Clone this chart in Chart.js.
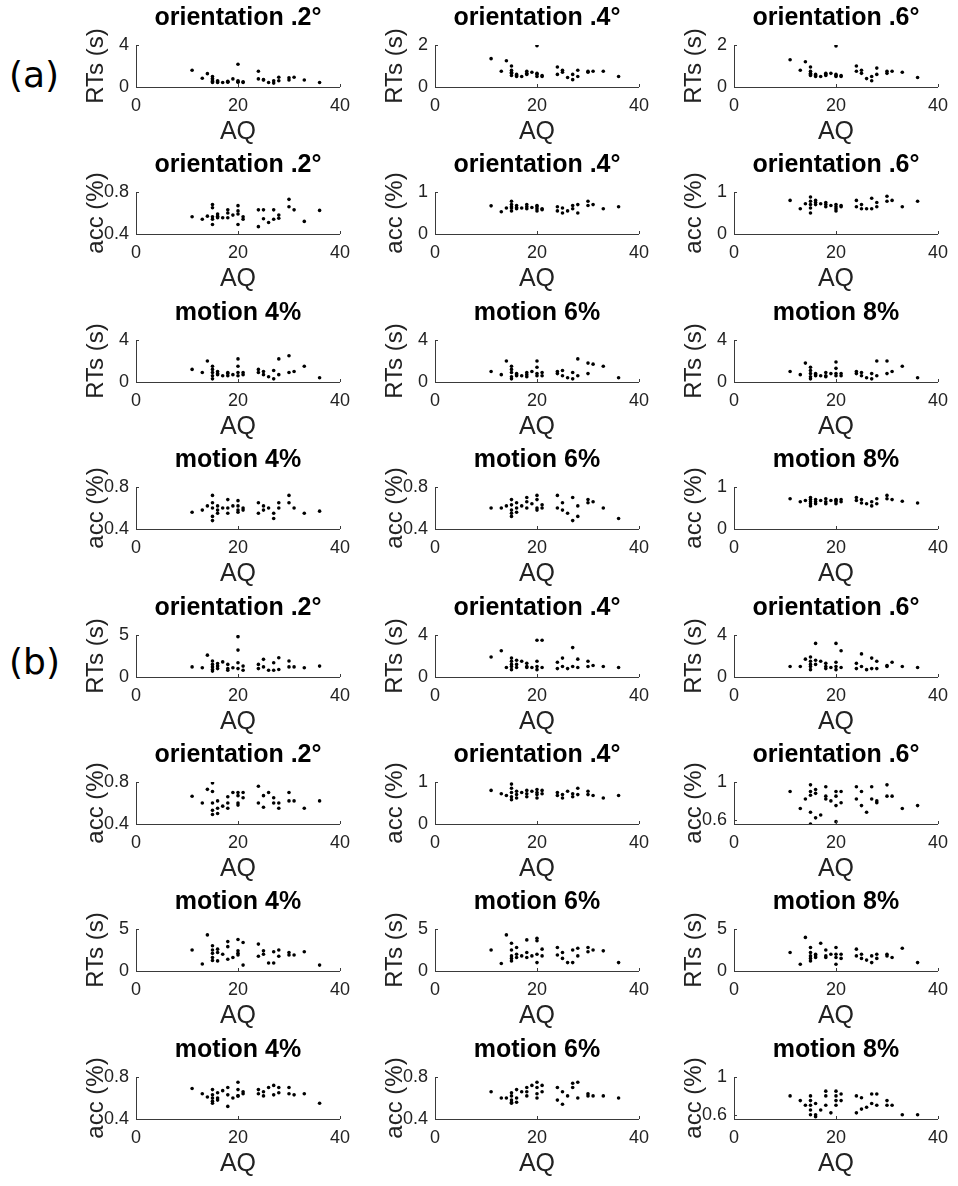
<!DOCTYPE html>
<html>
<head>
<meta charset="utf-8">
<script src="https://cdn.jsdelivr.net/npm/chart.js@4.4.1/dist/chart.umd.min.js"></script>
<style>
  body { margin: 0; background: #fff; }
  #page { position: relative; width: 958px; height: 1186px; overflow: hidden; font-family: "Liberation Sans", Arial, sans-serif; }
  #page canvas { position: absolute; }
  .tag { position: absolute; left: 9px; font-family: "DejaVu Sans", sans-serif; font-size: 36px; color: #000; line-height: 42px; }
</style>
</head>
<body>
<div id="page">
  <div class="tag" style="top:54px">(a)</div>
  <div class="tag" style="top:641px">(b)</div>
</div>
<script>
// AQ score per participant (x axis, same for all panels)
const aq = [11, 13, 14, 15, 15, 15, 15, 15, 16, 16, 16, 17, 18, 18, 18, 19, 20, 20, 20, 20,
            21, 21, 24, 24, 25, 25, 26, 27, 27, 28, 28, 30, 30, 31, 33, 36];

// (a) orientation RTs
const aOri2RT = [1.6, 0.83, 1.27, 1.0, 0.67, 0.43, 0.55, 0.8, 0.43, 0.5, 0.6, 0.43, 0.5, 0.45, 0.55, 0.77, 2.17, 0.5, 0.6, 0.45, 0.43, 0.5, 1.5, 0.77, 0.7, 0.67, 0.43, 0.37, 0.6, 0.93, 0.6, 0.87, 0.67, 0.93, 0.67, 0.43];
const aOri4RT = [1.35, 0.75, 1.25, 1.0, 0.8, 0.65, 0.55, 0.7, 0.55, 0.5, 0.6, 0.5, 0.75, 0.6, 0.65, 0.7, 1.97, 0.6, 0.5, 0.65, 0.5, 0.55, 0.95, 0.6, 0.8, 0.7, 0.45, 0.35, 0.6, 0.8, 0.5, 0.75, 0.7, 0.75, 0.75, 0.5];
const aOri6RT = [1.3, 0.8, 1.2, 0.95, 0.75, 0.6, 0.55, 0.65, 0.5, 0.55, 0.6, 0.5, 0.6, 0.55, 0.65, 0.65, 1.95, 0.55, 0.6, 0.5, 0.5, 0.55, 1.0, 0.75, 0.65, 0.8, 0.4, 0.3, 0.5, 0.9, 0.6, 0.75, 0.65, 0.75, 0.7, 0.45];
// (a) orientation accuracy
const aOri2Acc = [0.565, 0.54, 0.57, 0.68, 0.65, 0.565, 0.54, 0.49, 0.59, 0.57, 0.555, 0.555, 0.63, 0.6, 0.555, 0.58, 0.67, 0.62, 0.59, 0.49, 0.565, 0.54, 0.63, 0.47, 0.63, 0.545, 0.51, 0.63, 0.54, 0.58, 0.55, 0.73, 0.66, 0.63, 0.52, 0.625];
const aOri4Acc = [0.67, 0.53, 0.62, 0.78, 0.7, 0.62, 0.55, 0.65, 0.6, 0.68, 0.63, 0.62, 0.7, 0.6, 0.65, 0.63, 0.6, 0.55, 0.65, 0.68, 0.6, 0.58, 0.65, 0.55, 0.62, 0.5, 0.55, 0.68, 0.6, 0.7, 0.5, 0.78, 0.68, 0.7, 0.6, 0.65];
const aOri6Acc = [0.8, 0.6, 0.72, 0.88, 0.78, 0.7, 0.62, 0.5, 0.8, 0.7, 0.75, 0.72, 0.75, 0.65, 0.7, 0.68, 0.65, 0.6, 0.7, 0.55, 0.68, 0.65, 0.8, 0.65, 0.7, 0.6, 0.6, 0.85, 0.6, 0.75, 0.65, 0.9, 0.78, 0.8, 0.65, 0.78];
// (a) motion RTs
const aMot4RT = [1.2, 0.9, 2.0, 1.5, 1.2, 0.9, 0.6, 0.3, 1.0, 0.7, 0.8, 0.6, 0.8, 0.6, 0.9, 0.7, 2.2, 1.5, 0.9, 0.6, 0.9, 0.7, 1.2, 0.9, 1.0, 0.7, 0.5, 1.1, 0.3, 2.2, 0.7, 2.5, 0.9, 1.0, 1.5, 0.4];
const aMot6RT = [1.0, 0.7, 2.0, 1.5, 1.2, 0.9, 0.5, 0.3, 0.8, 0.6, 0.7, 0.6, 0.7, 0.9, 0.5, 1.0, 2.0, 1.4, 0.8, 0.6, 0.9, 0.6, 1.0, 0.8, 1.1, 0.6, 0.4, 0.9, 0.3, 2.2, 0.6, 1.8, 0.8, 1.7, 1.5, 0.4];
const aMot8RT = [1.0, 0.7, 1.8, 1.4, 1.1, 0.8, 0.5, 0.3, 0.7, 0.6, 0.8, 0.6, 0.9, 0.6, 0.5, 0.8, 1.9, 1.3, 0.8, 0.6, 0.8, 0.6, 1.0, 0.8, 0.9, 0.6, 0.4, 0.8, 0.3, 2.0, 0.6, 2.0, 0.8, 1.0, 1.5, 0.4];
// (a) motion accuracy
const aMot4Acc = [0.56, 0.58, 0.62, 0.72, 0.65, 0.6, 0.52, 0.48, 0.62, 0.58, 0.55, 0.6, 0.68, 0.6, 0.55, 0.62, 0.67, 0.62, 0.58, 0.56, 0.58, 0.6, 0.65, 0.55, 0.62, 0.58, 0.6, 0.55, 0.5, 0.65, 0.6, 0.72, 0.65, 0.6, 0.55, 0.57];
const aMot6Acc = [0.6, 0.6, 0.62, 0.68, 0.63, 0.58, 0.55, 0.52, 0.65, 0.6, 0.56, 0.62, 0.7, 0.66, 0.6, 0.64, 0.72, 0.68, 0.6, 0.58, 0.63, 0.6, 0.72, 0.6, 0.65, 0.58, 0.55, 0.7, 0.48, 0.62, 0.52, 0.68, 0.65, 0.66, 0.6, 0.5];
const aMot8Acc = [0.72, 0.65, 0.68, 0.75, 0.7, 0.65, 0.6, 0.55, 0.7, 0.65, 0.6, 0.68, 0.72, 0.65, 0.6, 0.68, 0.7, 0.68, 0.65, 0.6, 0.7, 0.65, 0.75, 0.68, 0.7, 0.62, 0.6, 0.65, 0.55, 0.72, 0.6, 0.8, 0.72, 0.7, 0.66, 0.62];

// (b) orientation RTs
const bOri2RT = [1.2, 1.1, 2.6, 1.9, 1.5, 1.2, 0.9, 0.7, 1.6, 1.3, 1.0, 1.8, 1.5, 1.0, 0.8, 1.1, 4.8, 3.2, 1.7, 1.0, 1.3, 0.8, 1.5, 1.0, 2.1, 1.2, 0.8, 1.7, 0.8, 2.3, 0.9, 1.9, 1.2, 1.2, 1.1, 1.3];
const bOri4RT = [1.9, 2.5, 0.9, 1.8, 1.5, 1.2, 1.0, 0.7, 1.6, 1.2, 0.9, 1.5, 1.3, 0.9, 1.0, 0.9, 3.5, 1.5, 1.0, 0.7, 3.5, 0.9, 1.4, 0.8, 1.8, 1.0, 0.8, 2.8, 1.0, 1.7, 0.9, 1.5, 1.0, 1.1, 1.0, 0.9];
const bOri6RT = [1.0, 1.0, 1.7, 1.9, 1.5, 1.2, 1.0, 0.7, 3.2, 1.6, 1.2, 1.5, 1.3, 1.0, 0.8, 0.9, 3.2, 1.0, 0.7, 1.4, 2.5, 0.9, 1.3, 0.8, 2.2, 1.0, 0.7, 1.8, 0.8, 1.5, 0.8, 1.1, 1.0, 1.4, 1.0, 0.9];
// (b) orientation accuracy
const bOri2Acc = [0.665, 0.6, 0.73, 0.79, 0.71, 0.6, 0.53, 0.49, 0.62, 0.55, 0.5, 0.57, 0.66, 0.6, 0.55, 0.7, 0.7, 0.67, 0.6, 0.58, 0.7, 0.65, 0.76, 0.6, 0.67, 0.56, 0.7, 0.65, 0.6, 0.6, 0.55, 0.7, 0.62, 0.62, 0.55, 0.62];
const bOri4Acc = [0.8, 0.72, 0.68, 0.95, 0.85, 0.75, 0.65, 0.58, 0.78, 0.7, 0.62, 0.75, 0.8, 0.72, 0.65, 0.78, 0.82, 0.75, 0.7, 0.62, 0.8, 0.72, 0.75, 0.68, 0.7, 0.62, 0.78, 0.72, 0.65, 0.85, 0.7, 0.78, 0.7, 0.68, 0.62, 0.68];
const bOri6Acc = [0.9, 0.72, 0.82, 0.97, 0.9, 0.86, 0.68, 0.555, 0.62, 0.92, 0.88, 0.65, 0.95, 0.85, 0.82, 0.8, 0.58, 0.75, 0.9, 0.85, 0.9, 0.78, 0.95, 0.82, 0.9, 0.75, 0.68, 0.95, 0.82, 0.8, 0.78, 0.97, 0.85, 0.85, 0.72, 0.75];
// (b) motion RTs
const bMot4RT = [2.5, 0.83, 4.3, 3.0, 2.5, 2.1, 1.6, 1.25, 2.6, 2.2, 1.2, 2.0, 3.5, 2.9, 1.4, 1.6, 3.75, 2.4, 2.1, 1.9, 3.4, 0.7, 3.2, 1.75, 2.4, 2.0, 0.96, 2.3, 0.96, 2.5, 1.75, 2.2, 1.9, 1.9, 2.3, 0.7];
const bMot6RT = [2.5, 0.9, 4.3, 3.3, 2.5, 1.8, 1.5, 1.2, 2.8, 2.0, 1.6, 1.8, 3.7, 2.2, 1.6, 1.8, 3.9, 3.6, 2.0, 1.0, 2.6, 1.8, 2.8, 1.9, 2.2, 1.5, 1.0, 2.5, 1.0, 2.7, 1.8, 2.8, 2.3, 2.5, 2.4, 1.0];
const bMot8RT = [2.2, 0.8, 4.0, 2.8, 2.2, 1.8, 1.5, 1.2, 2.0, 1.8, 1.6, 3.3, 2.5, 1.8, 1.6, 2.0, 2.8, 2.0, 1.6, 0.8, 2.0, 1.5, 2.6, 1.8, 1.5, 2.0, 1.3, 1.8, 1.0, 2.0, 1.5, 1.8, 2.0, 1.6, 2.7, 1.0];
// (b) motion accuracy
const bMot4Acc = [0.69, 0.64, 0.61, 0.68, 0.63, 0.6, 0.57, 0.55, 0.65, 0.6, 0.58, 0.67, 0.7, 0.63, 0.52, 0.6, 0.75, 0.68, 0.62, 0.62, 0.66, 0.64, 0.68, 0.64, 0.66, 0.62, 0.7, 0.72, 0.63, 0.7, 0.65, 0.7, 0.64, 0.63, 0.64, 0.55];
const bMot6Acc = [0.66, 0.6, 0.6, 0.65, 0.62, 0.58, 0.56, 0.55, 0.68, 0.6, 0.56, 0.66, 0.7, 0.66, 0.62, 0.72, 0.75, 0.7, 0.6, 0.64, 0.72, 0.66, 0.7, 0.58, 0.66, 0.54, 0.62, 0.74, 0.7, 0.75, 0.6, 0.62, 0.64, 0.62, 0.62, 0.6];
const bMot8Acc = [0.8, 0.75, 0.7, 0.8, 0.75, 0.7, 0.65, 0.6, 0.72, 0.6, 0.58, 0.65, 0.85, 0.8, 0.7, 0.62, 0.85, 0.8, 0.75, 0.7, 0.82, 0.75, 0.8, 0.62, 0.78, 0.66, 0.68, 0.82, 0.72, 0.82, 0.7, 0.75, 0.7, 0.7, 0.6, 0.6];

// titles and axis texts
const oriTitles = ['orientation .2°', 'orientation .4°', 'orientation .6°'];
const motTitles = ['motion 4%', 'motion 6%', 'motion 8%'];
const rtLabel = 'RTs (s)';
const accLabel = 'acc (%)';
const xLabel = 'AQ';

// tick sets (first/last value is the axis limit unless a range is given)
const xTicks = [0, 20, 40];
const rt4 = [0, 2, 4];
const rt2 = [0, 1, 2];
const rt5 = [0, 5];
const acc48 = [0.4, 0.6, 0.8];
const acc01 = [0, 0.5, 1];
const acc6 = [0.6, 0.8, 1];
const acc6Range = [0.555, 1];

const rows = [
  { titles: oriTitles, label: rtLabel,  series: [aOri2RT, aOri4RT, aOri6RT],    ticks: [rt4, rt2, rt2] },
  { titles: oriTitles, label: accLabel, series: [aOri2Acc, aOri4Acc, aOri6Acc], ticks: [acc48, acc01, acc01] },
  { titles: motTitles, label: rtLabel,  series: [aMot4RT, aMot6RT, aMot8RT],    ticks: [rt4, rt4, rt4] },
  { titles: motTitles, label: accLabel, series: [aMot4Acc, aMot6Acc, aMot8Acc], ticks: [acc48, acc48, acc01] },
  { titles: oriTitles, label: rtLabel,  series: [bOri2RT, bOri4RT, bOri6RT],    ticks: [rt5, rt4, rt4] },
  { titles: oriTitles, label: accLabel, series: [bOri2Acc, bOri4Acc, bOri6Acc], ticks: [acc48, acc01, acc6], ranges: [null, null, acc6Range] },
  { titles: motTitles, label: rtLabel,  series: [bMot4RT, bMot6RT, bMot8RT],    ticks: [rt5, rt5, rt5] },
  { titles: motTitles, label: accLabel, series: [bMot4Acc, bMot6Acc, bMot8Acc], ticks: [acc48, acc48, acc6], ranges: [null, null, acc6Range] }
];

const FONT = "'Liberation Sans', Arial, sans-serif";
const AXIS = '#3a3a3a';
const rowTops = [0, 147, 295, 442, 590, 737, 884, 1032];
const plotLefts = [136, 435, 734];
const Y_W = 136, PLOT_W = 204, PAD_R = 18, PANEL_H = 147, X_H = 60;

// MATLAB-like inward tick marks
const inwardTicks = {
  id: 'inwardTicks',
  afterDraw(chart) {
    const { ctx, chartArea: a, scales: { x, y } } = chart;
    ctx.save();
    ctx.strokeStyle = AXIS;
    ctx.lineWidth = 1;
    ctx.beginPath();
    x.ticks.forEach(t => {
      const px = Math.round(x.getPixelForValue(t.value)) + 0.5;
      ctx.moveTo(px, a.bottom); ctx.lineTo(px, a.bottom - 3);
    });
    y.ticks.forEach(t => {
      const py = Math.round(y.getPixelForValue(t.value)) + 0.5;
      ctx.moveTo(a.left, py); ctx.lineTo(a.left + 3, py);
    });
    ctx.stroke();
    ctx.restore();
  }
};

const page = document.getElementById('page');

rows.forEach((row, r) => {
  row.series.forEach((vals, c) => {
    const yt = row.ticks[c];
    const range = row.ranges && row.ranges[c] ? row.ranges[c] : [yt[0], yt[yt.length - 1]];
    const cv = document.createElement('canvas');
    cv.width = Y_W + PLOT_W + PAD_R;
    cv.height = PANEL_H;
    cv.style.left = (plotLefts[c] - Y_W) + 'px';
    cv.style.top = rowTops[r] + 'px';
    page.appendChild(cv);

    new Chart(cv, {
      type: 'scatter',
      data: {
        datasets: [{
          data: aq.map((v, i) => ({ x: v, y: vals[i] })),
          backgroundColor: '#000',
          borderWidth: 0,
          pointRadius: 1.8
        }]
      },
      options: {
        responsive: false,
        animation: false,
        layout: { padding: { left: 0, right: PAD_R, top: 0, bottom: 0 } },
        plugins: {
          legend: { display: false },
          tooltip: { enabled: false },
          title: {
            display: true,
            fullSize: false,
            text: row.titles[c],
            color: '#000',
            font: { family: FONT, size: 25, weight: 'bold' },
            padding: { top: 3, bottom: 12 }
          }
        },
        scales: {
          x: {
            type: 'linear',
            min: 0, max: 40,
            afterBuildTicks: s => { s.ticks = xTicks.map(v => ({ value: v })); },
            afterFit: s => { s.height = X_H; },
            grid: { display: false, drawTicks: false },
            border: { display: true, color: AXIS, width: 1 },
            ticks: { color: '#222', font: { family: FONT, size: 18 }, padding: 8, maxRotation: 0 },
            title: { display: true, text: xLabel, color: '#222', font: { family: FONT, size: 25 }, padding: { top: 0, bottom: 0 } }
          },
          y: {
            min: range[0], max: range[1],
            afterBuildTicks: s => { s.ticks = yt.map(v => ({ value: v })); },
            afterFit: s => { s.width = Y_W; },
            grid: { display: false, drawTicks: false },
            border: { display: true, color: AXIS, width: 1 },
            ticks: { color: '#222', font: { family: FONT, size: 18 }, padding: 7, callback: v => String(v) },
            title: { display: true, text: row.label, color: '#222', font: { family: FONT, size: 24 }, padding: { top: 82, bottom: 0 } }
          }
        }
      },
      plugins: [inwardTicks]
    });
  });
});
</script>
</body>
</html>
